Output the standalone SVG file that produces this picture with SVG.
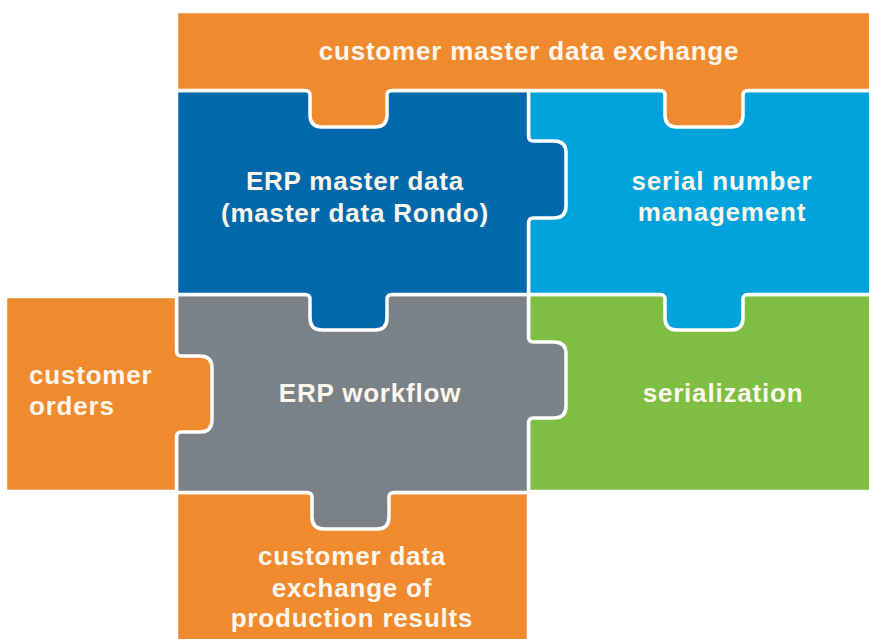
<svg xmlns="http://www.w3.org/2000/svg" width="869" height="639" viewBox="0 0 869 639">
  <style>
    .piece { stroke: #ffffff; stroke-width: 3.5; stroke-linejoin: round; }
    .orange { fill: #f08a2e; }
    .blue { fill: #0068ab; }
    .cyan { fill: #00a3db; }
    .gray { fill: #7a8288; }
    .green { fill: #7dbe43; }
    .label { font-family: "Liberation Sans", Arial, sans-serif; font-weight: bold; font-size: 26px; letter-spacing: 0.8px; fill: #fdf6ec; text-anchor: middle; }
    .left { text-anchor: start; }
  </style>
  <rect width="869" height="639" fill="#ffffff"/>

  <!-- receiving pieces first, pieces with protruding tabs drawn on top -->
  <g id="serialization">
    <path class="piece green" d="M528.5 294.5 H875 V491.5 H528.5 Z"/>
    <text class="label" x="723" y="402">serialization</text>
  </g>

  <g id="customer-data-exchange">
    <path class="piece orange" d="M176.5 492.5 H528.5 V650 H176.5 Z"/>
    <text class="label" x="352" y="565">customer data</text>
    <text class="label" x="352" y="597">exchange of</text>
    <text class="label" x="352" y="627">production results</text>
  </g>

  <g id="erp-workflow">
    <path class="piece gray" d="M176.5 294.5 H528.5 V337 Q528.5 342 533.5 342 H554 Q566 342 566 354 V406 Q566 418 554 418 H533.5 Q528.5 418 528.5 423 V492.5 H394 Q389 492.5 389 497.5 V517 Q389 529 377 529 H324 Q312 529 312 517 V497.5 Q312 492.5 307 492.5 H176.5 Z"/>
    <text class="label" x="370" y="402">ERP workflow</text>
  </g>

  <g id="customer-orders">
    <path class="piece orange" d="M5.5 296.5 H176.5 V351 Q176.5 356 181.5 356 H200 Q212 356 212 368 V420 Q212 432 200 432 H181.5 Q176.5 432 176.5 437 V491.5 H5.5 Z"/>
    <text class="label left" x="29" y="384">customer</text>
    <text class="label left" x="29" y="415">orders</text>
  </g>

  <g id="serial-number-management">
    <path class="piece cyan" d="M528.5 90.5 H875 V294.5 H748 Q743 294.5 743 299.5 V318 Q743 330 731 330 H677 Q665 330 665 318 V299.5 Q665 294.5 660 294.5 H528.5 Z"/>
    <text class="label" x="722" y="190">serial number</text>
    <text class="label" x="722" y="221">management</text>
  </g>

  <g id="erp-master-data">
    <path class="piece blue" d="M176.5 90.5 H528.5 V136 Q528.5 141 533.5 141 H554 Q566 141 566 153 V206 Q566 218 554 218 H533.5 Q528.5 218 528.5 223 V294.5 H392 Q387 294.5 387 299.5 V318 Q387 330 375 330 H322 Q310 330 310 318 V299.5 Q310 294.5 305 294.5 H176.5 Z"/>
    <text class="label" x="355" y="190">ERP master data</text>
    <text class="label" x="355" y="222">(master data Rondo)</text>
  </g>

  <g id="customer-master-data-exchange">
    <path class="piece orange" d="M176.5 11.5 H875 V90.5 H748 Q743 90.5 743 95.5 V115 Q743 127 731 127 H677 Q665 127 665 115 V95.5 Q665 90.5 660 90.5 H392 Q387 90.5 387 95.5 V115 Q387 127 375 127 H322 Q310 127 310 115 V95.5 Q310 90.5 305 90.5 H176.5 Z"/>
    <text class="label" x="529" y="60">customer master data exchange</text>
  </g>

  <g id="connectors"/>
</svg>
